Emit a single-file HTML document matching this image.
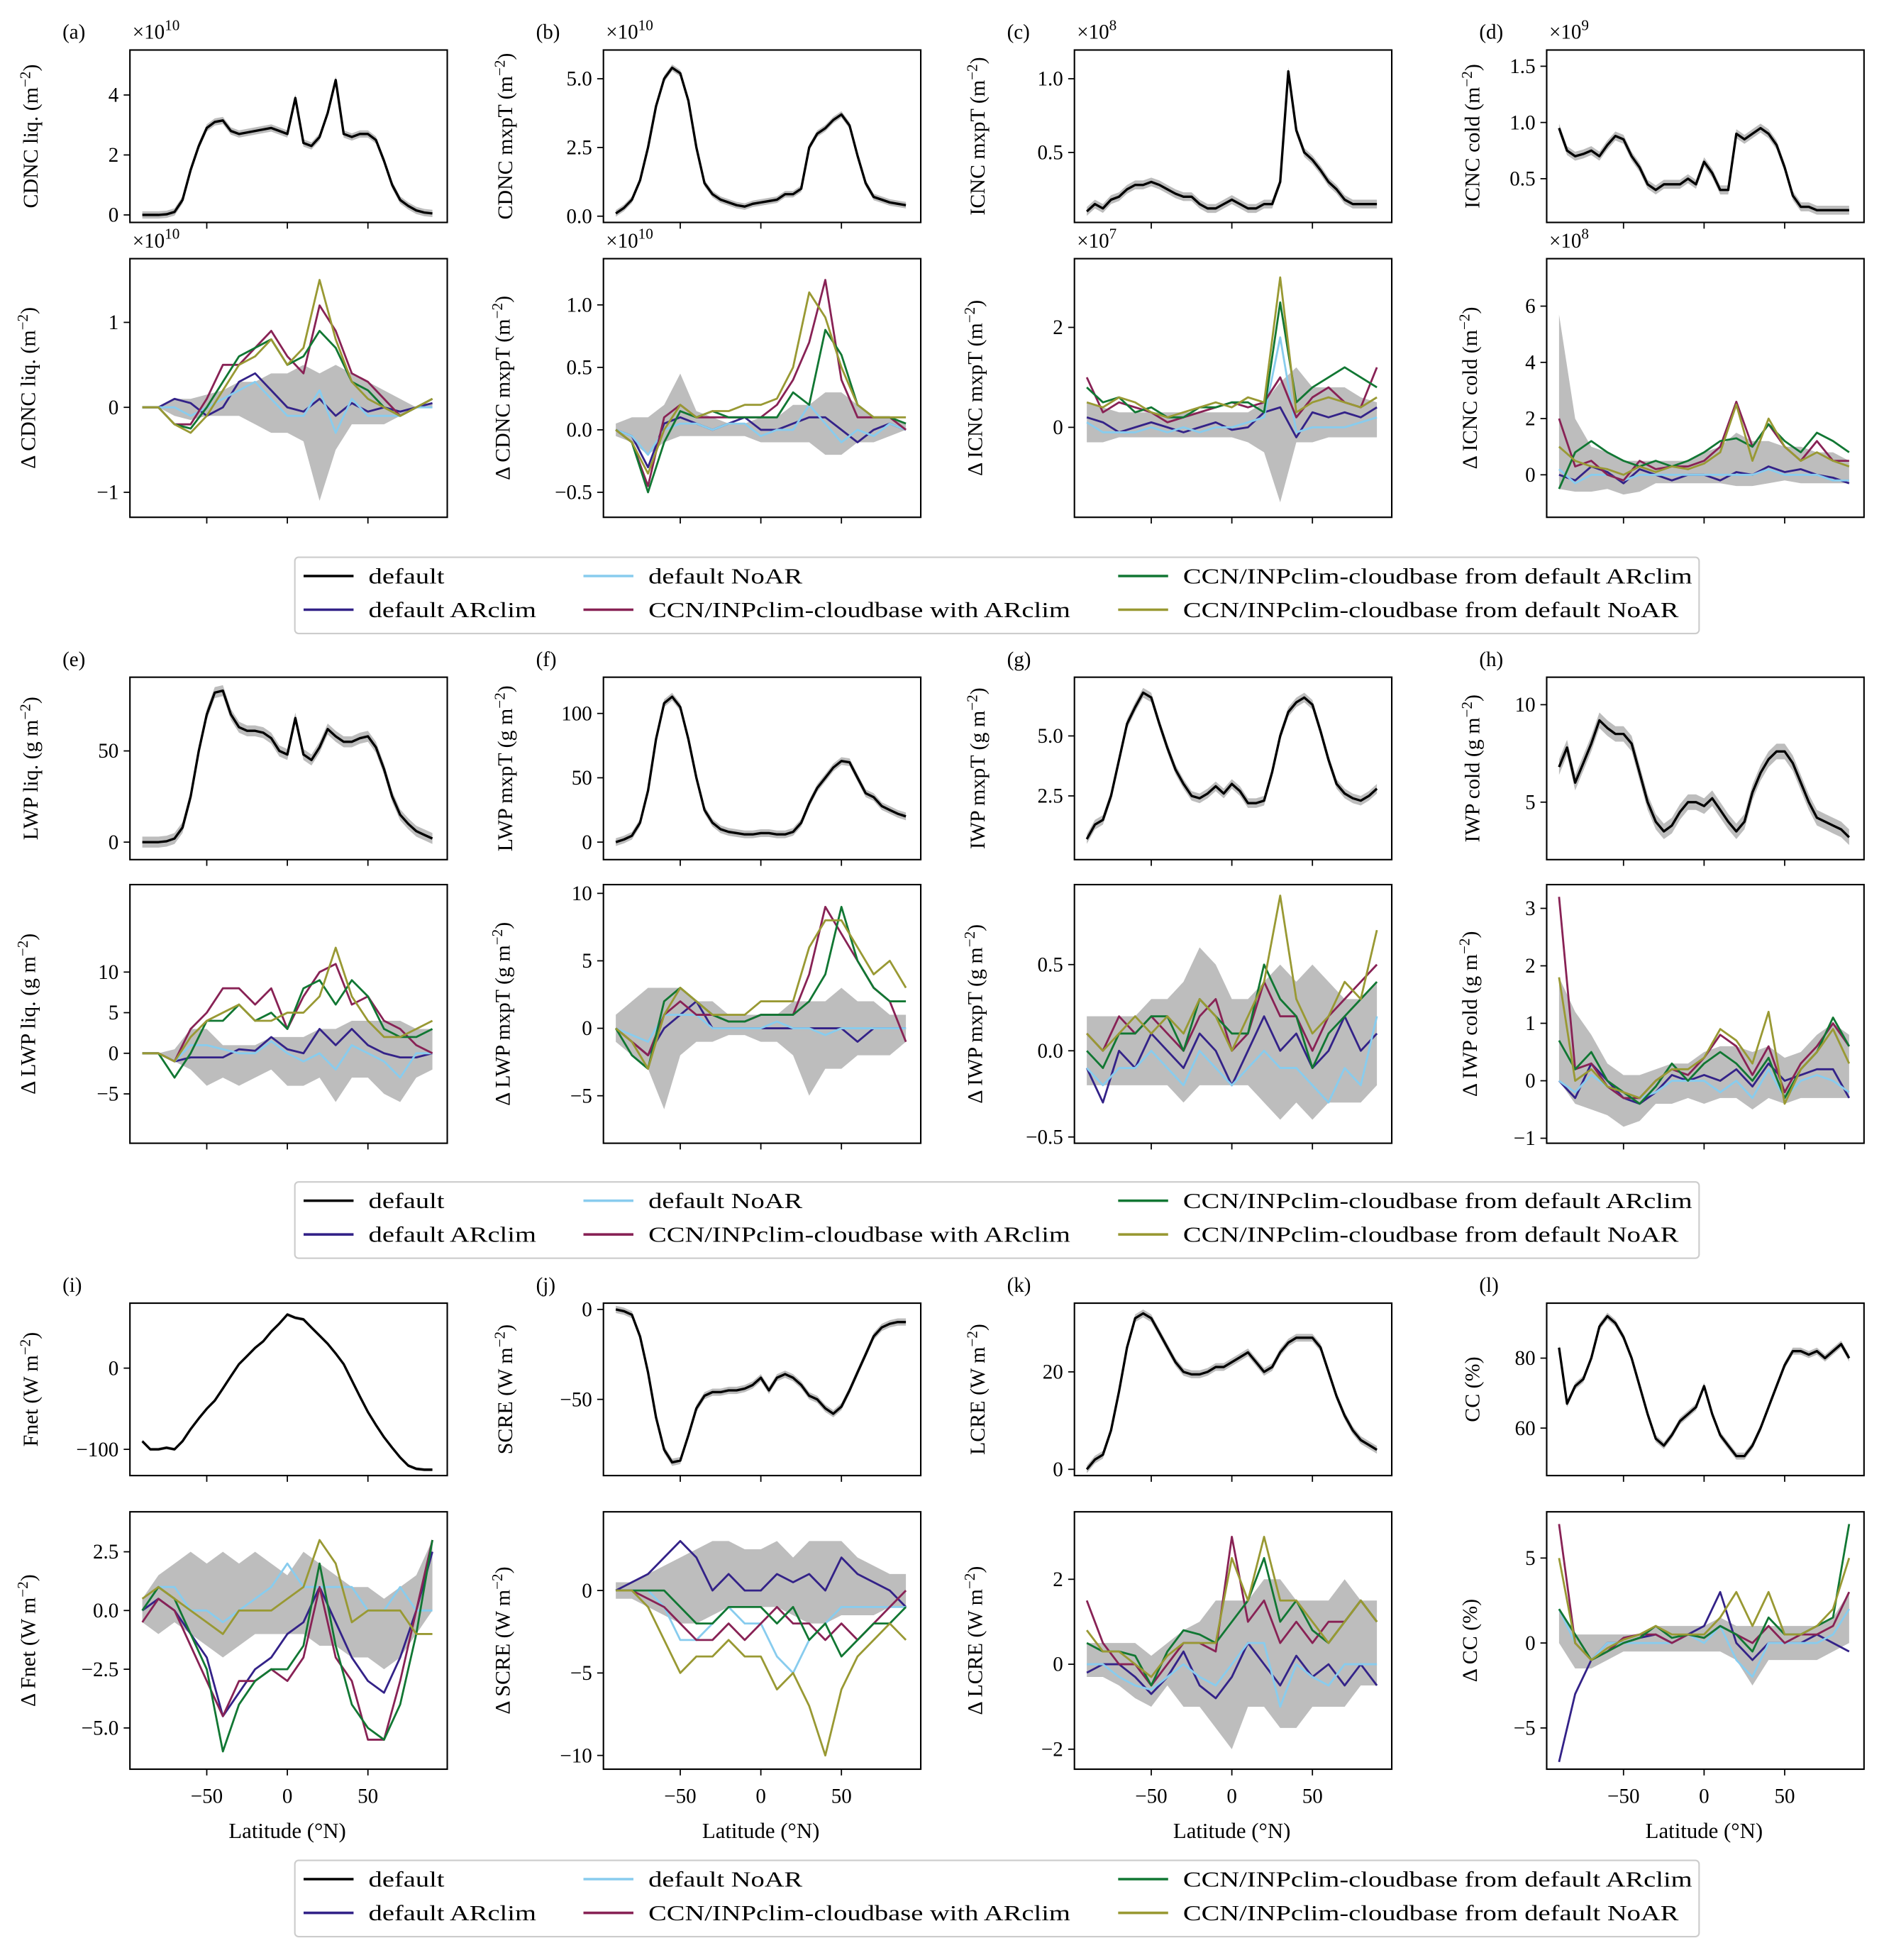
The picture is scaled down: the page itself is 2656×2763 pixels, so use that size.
<!DOCTYPE html>
<html><head><meta charset="utf-8"><title>Cloud diagnostics by latitude</title>
<style>
html,body{margin:0;padding:0;background:#fff;}
svg{display:block;}
text{font-family:"Liberation Serif",serif;fill:#000;}
</style></head>
<body>
<svg id="fig" xmlns="http://www.w3.org/2000/svg" width="2656" height="2763" viewBox="0 0 1508 1568.7"></svg>
<script>
const LAT37=[-90,-85,-80,-75,-70,-65,-60,-55,-50,-45,-40,-35,-30,-25,-20,-15,-10,-5,0,5,10,15,20,25,30,35,40,45,50,55,60,65,70,75,80,85,90];
const LAT19=[-90,-80,-70,-60,-50,-40,-30,-20,-10,0,10,20,30,40,50,60,70,80,90];
const SERIES=["default ARclim","default NoAR","CCN/INPclim-cloudbase with ARclim","CCN/INPclim-cloudbase from default ARclim","CCN/INPclim-cloudbase from default NoAR"];
const COLORS=["#332288","#88ccee","#882255","#117733","#999933"];

// (a)
const A_TOP=[0,0,0,0.02,0.1,0.5,1.5,2.3,2.9,3.1,3.15,2.8,2.7,2.75,2.8,2.85,2.9,2.8,2.7,3.9,2.4,2.3,2.6,3.4,4.5,2.7,2.6,2.7,2.7,2.5,1.8,1.0,0.5,0.3,0.15,0.08,0.05];
const A_NAVY=[0,0,0.1,0.05,-0.1,0,0.3,0.4,0.2,0,-0.05,0.1,-0.1,0.05,-0.05,0,-0.05,0,0.05];
const A_LB=[0,0,0,-0.1,0,0.1,0.2,0.3,0.1,-0.1,-0.1,0.2,-0.3,0.1,-0.1,-0.1,-0.1,0,0];
const A_MAR=[0,0,-0.2,-0.2,0.1,0.5,0.5,0.7,0.9,0.6,0.4,1.2,0.9,0.4,0.3,0.1,-0.1,0,0.1];
const A_GRN=[0,0,-0.2,-0.25,0,0.3,0.6,0.7,0.8,0.5,0.6,0.9,0.7,0.3,0.2,0,-0.1,0,0.1];
const A_OLV=[0,0,-0.2,-0.3,-0.1,0.2,0.5,0.6,0.8,0.5,0.7,1.5,0.8,0.3,0.1,0,-0.1,0,0.1];
const A_LO=[0,0,-0.1,-0.15,-0.1,-0.1,-0.1,-0.2,-0.3,-0.3,-0.4,-1.1,-0.5,-0.2,-0.2,-0.2,-0.1,0,0];
const A_HI=[0,0,0.1,0.1,0.15,0.2,0.3,0.3,0.4,0.4,0.5,0.4,0.5,0.4,0.3,0.2,0.1,0,0.05];
// (b)
const B_TOP=[0.1,0.3,0.6,1.3,2.5,4.0,5.0,5.4,5.2,4.2,2.5,1.2,0.8,0.6,0.5,0.4,0.35,0.45,0.5,0.55,0.6,0.8,0.8,1.0,2.5,3.0,3.2,3.5,3.7,3.3,2.2,1.2,0.7,0.6,0.5,0.45,0.4];
const B_NAVY=[0,-0.05,-0.3,0.05,0.1,0.05,0,0.05,0.1,0,0,0.05,0.1,0.1,0,-0.1,0,0.05,0];
const B_LB=[0,-0.05,-0.2,0,0.05,0.05,0,0.05,0.05,-0.05,0,0,0.2,0.05,-0.1,0,-0.05,0.05,0];
const B_MAR=[0,-0.1,-0.45,0.1,0.2,0.1,0.1,0.1,0.1,0.1,0.2,0.4,0.7,1.2,0.4,0.1,0.1,0.1,0];
const B_GRN=[0,-0.1,-0.5,-0.1,0.15,0.1,0.15,0.1,0.1,0.1,0.1,0.3,0.2,0.8,0.6,0.2,0.1,0.1,0.05];
const B_OLV=[0,-0.1,-0.35,0,0.2,0.1,0.15,0.15,0.2,0.2,0.25,0.5,1.1,0.9,0.5,0.2,0.1,0.1,0.1];
const B_LO=[-0.05,-0.1,-0.2,-0.1,-0.05,-0.05,-0.05,-0.05,-0.05,-0.1,-0.1,-0.1,-0.1,-0.2,-0.2,-0.1,-0.1,-0.05,0];
const B_HI=[0.05,0.1,0.1,0.2,0.45,0.15,0.1,0.05,0.05,0.1,0.1,0.2,0.2,0.3,0.3,0.2,0.1,0.1,0.05];
// (c)
const C_TOP=[0.1,0.15,0.12,0.18,0.2,0.25,0.28,0.28,0.3,0.28,0.25,0.22,0.2,0.2,0.15,0.12,0.12,0.15,0.18,0.15,0.12,0.12,0.15,0.15,0.3,1.05,0.65,0.5,0.45,0.38,0.3,0.25,0.18,0.15,0.15,0.15,0.15];
const C_NAVY=[0.2,0.1,-0.1,0,0.1,0,-0.1,0,0.1,-0.05,0,0.3,0.4,-0.2,0.3,0.2,0.3,0.2,0.4];
const C_LB=[0.1,-0.1,-0.1,-0.1,0,-0.1,0,-0.1,0,0,0.1,0.2,1.8,-0.1,0,0,0,0.1,0.2];
const C_MAR=[1.0,0.3,0.5,0.4,0.3,0.1,0.2,0.3,0.4,0.5,0.4,0.5,1.0,0.2,0.6,0.8,0.5,0.4,1.2];
const C_GRN=[0.8,0.5,0.6,0.3,0.4,0.2,0.2,0.4,0.4,0.5,0.5,0.3,2.5,0.5,0.8,1.0,1.2,1.0,0.8];
const C_OLV=[0.5,0.4,0.6,0.5,0.3,0.2,0.3,0.4,0.5,0.4,0.6,0.5,3.0,0.3,0.5,0.6,0.5,0.4,0.6];
const C_LO=[-0.3,-0.3,-0.2,-0.2,-0.2,-0.2,-0.2,-0.2,-0.2,-0.2,-0.3,-0.5,-1.5,-0.3,-0.3,-0.2,-0.2,-0.2,-0.2];
const C_HI=[0.5,0.4,0.3,0.3,0.3,0.3,0.3,0.3,0.3,0.3,0.3,0.5,0.9,1.2,0.8,0.8,0.8,0.6,0.5];
// (d)
const D_TOP=[0.95,0.75,0.7,0.72,0.75,0.7,0.8,0.88,0.85,0.7,0.6,0.45,0.4,0.45,0.45,0.45,0.5,0.45,0.65,0.55,0.4,0.4,0.9,0.85,0.9,0.95,0.9,0.8,0.6,0.35,0.25,0.25,0.22,0.22,0.22,0.22,0.22];
const D_NAVY=[0,-0.2,0.3,0.1,-0.3,0.2,0,-0.2,0,0,-0.2,0.1,0,0.3,0.1,0.2,0,-0.1,-0.3];
const D_LB=[0.2,-0.3,0,0,-0.2,0,0,0,0,0,0,0,0,0.2,0,0,0,-0.2,-0.2];
const D_MAR=[2.0,0.3,0.5,0,-0.2,0.5,0.2,0.3,0.3,0.5,1.0,2.6,1.0,1.8,1.0,0.5,1.2,0.5,0.5];
const D_GRN=[-0.5,0.8,1.2,0.8,0.5,0.3,0.5,0.3,0.5,0.8,1.2,1.3,1.0,1.8,1.2,0.8,1.5,1.2,0.8];
const D_OLV=[1.0,0.5,0.3,0.2,0,0.3,0.1,0.3,0.2,0.4,0.8,2.5,0.5,2.0,1.0,0.5,0.8,0.5,0.3];
const D_LO=[-0.5,-0.6,-0.6,-0.5,-0.7,-0.6,-0.3,-0.3,-0.3,-0.3,-0.3,-0.4,-0.4,-0.3,-0.2,-0.3,-0.3,-0.3,-0.3];
const D_HI=[5.7,2.0,1.0,0.8,0.5,0.5,0.5,0.5,0.5,0.8,1.0,1.5,1.2,1.2,1.0,1.0,0.8,0.8,0.5];
// (e)
const E_TOP=[0,0,0,0.5,2,8,25,50,70,82,83,70,63,61,61,60,57,50,48,68,48,45,52,62,58,55,55,57,58,52,40,25,15,10,6,4,2];
const E_NAVY=[0,0,-1,-0.5,-0.5,-0.5,0.5,0.3,2,0.5,0,3,1,3,1,0,-0.5,-0.5,0];
const E_LB=[0,0,-1,1,1,0.5,0,0,1.5,0,-1,0,-2,1,0,-1,-3,0,0];
const E_MAR=[0,0,-1,3,5,8,8,6,8,3,7,10,11,6,7,4,3,1,0];
const E_GRN=[0,0,-3,0,4,4,6,4,5,3,8,9,6,9,7,3,2,2,3];
const E_OLV=[0,0,-1,2,4,5,6,4,4,5,5,7,13,7,4,2,2,3,4];
const E_LO=[0,0,-1,-2,-4,-3,-4,-3,-2,-4,-4,-3,-6,-3,-3,-5,-6,-3,-2];
const E_HI=[0,0,0.5,3,3,1,1,1,2,2,2,3,3,4,4,4,4,3,3];
// (f)
const F_TOP=[0,2,5,15,40,80,108,113,105,80,50,25,15,10,8,7,6,6,7,7,6,6,8,15,30,42,50,58,63,62,50,38,35,28,25,22,20];
const F_NAVY=[0,-1,-2,0,1,2,0,0,0,0,0,0,0,0,0,-1,0,0,0];
const F_LB=[0,-0.5,-1,1,1,1,0,0,0,0,0.5,0,0,-0.5,0,0,0,0,0];
const F_MAR=[0,-1,-2,1,2,1,1,0.5,0.5,1,1,1,4,9,7,5,3,2,-1];
const F_GRN=[0,-2,-3,2,3,2,1,0.5,0.5,1,1,1,2,4,9,5,3,2,2];
const F_OLV=[0,-1,-3,1,3,2,1,1,1,2,2,2,6,8,8,6,4,5,3];
const F_LO=[-1,-2,-3,-6,-2,-1,-1,-0.5,-0.5,-1,-1,-2,-5,-3,-3,-2,-2,-2,-1];
const F_HI=[1,2,3,3,3,2,2,1,1,1,1,2,2,2,3,2,2,1,1];
// (g)
const G_TOP=[0.7,1.3,1.5,2.5,4,5.5,6.2,6.8,6.6,5.5,4.5,3.6,3.0,2.5,2.4,2.6,2.9,2.6,3.0,2.7,2.2,2.2,2.3,3.5,5.0,6.0,6.4,6.6,6.3,5.2,4.0,3.0,2.6,2.4,2.3,2.5,2.8];
const G_NAVY=[-0.1,-0.3,0,-0.1,0.1,0,-0.1,0.1,0,-0.2,0,0.2,0,0.1,-0.1,0,0.2,0,0.1];
const G_LB=[-0.1,-0.2,-0.1,-0.1,0,-0.1,-0.2,0,-0.1,-0.2,-0.1,0,-0.1,-0.1,-0.2,-0.3,-0.1,-0.2,0.2];
const G_MAR=[0.1,0,0.2,0.1,0.2,0.1,0,0.2,0.3,0,0.1,0.4,0.2,0.2,0,0.2,0.3,0.4,0.5];
const G_GRN=[0,-0.1,0.1,0.1,0.2,0.2,0,0.3,0.2,0.1,0.1,0.5,0.3,0.2,-0.1,0.1,0.2,0.3,0.4];
const G_OLV=[0.1,0,0.1,0.2,0.1,0.2,0.1,0.3,0.2,0,0.2,0.4,0.9,0.3,0.1,0.2,0.4,0.3,0.7];
const G_LO=[-0.2,-0.2,-0.2,-0.2,-0.2,-0.2,-0.3,-0.2,-0.2,-0.2,-0.2,-0.3,-0.4,-0.3,-0.4,-0.3,-0.3,-0.3,-0.2];
const G_HI=[0.2,0.2,0.2,0.2,0.3,0.3,0.4,0.6,0.5,0.3,0.3,0.4,0.5,0.4,0.5,0.4,0.3,0.3,0.4];
// (h)
const H_TOP=[6.8,7.8,6,7,8,9.2,8.8,8.5,8.5,8,6.5,5,4,3.5,3.8,4.5,5,5,4.8,5.2,4.6,4,3.5,4,5.5,6.5,7.2,7.6,7.6,7,6,5,4.2,4,3.8,3.6,3.2];
const H_NAVY=[0,-0.3,0.3,0,-0.3,-0.4,-0.2,0.1,0,0.1,0,0.2,-0.1,0.3,0,0.1,0.2,0.2,-0.3];
const H_LB=[0,-0.2,0.1,-0.1,-0.3,-0.3,-0.2,0,0,0,-0.2,0,-0.3,0.2,-0.3,0,0.1,0,-0.2];
const H_MAR=[3.2,0.2,0.3,-0.1,-0.3,-0.3,0,0.2,0.1,0.4,0.8,0.6,0.1,0.6,-0.2,0.3,0.6,1.0,0.6];
const H_GRN=[0.7,0.2,0.5,0,-0.2,-0.4,-0.1,0.3,0,0.3,0.5,0.3,0,0.4,-0.3,0.2,0.5,1.1,0.6];
const H_OLV=[1.8,0,0.2,-0.1,-0.2,-0.3,0,0.2,0.2,0.4,0.9,0.7,0.3,1.2,-0.4,0.2,0.5,0.9,0.3];
const H_LO=[0,-0.4,-0.5,-0.6,-0.8,-0.7,-0.4,-0.4,-0.3,-0.4,-0.3,-0.3,-0.5,-0.3,-0.4,-0.3,-0.3,-0.3,-0.3];
const H_HI=[1.8,1.2,0.8,0.3,0.1,0.1,0.2,0.3,0.3,0.5,0.6,0.6,0.5,0.6,0.4,0.5,0.8,1.0,0.8];
// (i)
const I_TOP=[-90,-100,-100,-98,-100,-90,-75,-62,-50,-40,-25,-10,5,15,25,33,45,55,66,62,60,50,40,30,18,5,-15,-35,-54,-70,-85,-98,-110,-120,-124,-125,-125];
const I_NAVY=[0,0.5,0,-1,-2,-4.5,-3.5,-2.5,-2,-1,-0.5,1,-0.5,-2,-3,-3.5,-2,0,2.5];
const I_LB=[0,1,1,0,0,-0.5,0,0.5,1,2,1,1,1,1,0,0,1,0,0];
const I_MAR=[-0.5,0.5,0,-1.5,-3,-4.5,-3,-3,-2.5,-3,-2,1,-2,-3,-5.5,-5.5,-3,0,3];
const I_GRN=[0,1,0.5,-1,-2.5,-6,-4,-3,-2.5,-2.5,-1.5,2,-1.5,-4,-5,-5.5,-4,-1,3];
const I_OLV=[0.5,1,0.5,0,-0.5,-1,0,0,0,0.5,1,3,2,-0.5,0,0,0,-1,-1];
const I_LO=[-0.5,-1,-0.5,-1,-1.5,-2,-1.5,-1,-1,-1,-1,-1.5,-1.5,-2,-2,-2.5,-2,-1,0];
const I_HI=[0.5,1.5,2,2.5,2,2.5,2,2.5,2,1.5,2.5,2,1.5,1,1,0.5,1,1.5,3];
// (j)
const J_TOP=[0,-1,-3,-15,-35,-60,-78,-85,-84,-70,-55,-48,-46,-46,-45,-45,-44,-42,-38,-45,-38,-36,-38,-42,-48,-50,-55,-58,-54,-45,-35,-25,-15,-10,-8,-7,-7];
const J_NAVY=[0,0.5,1,2,3,2,0,1,0,0,1,0.5,1,0,2,1,0.5,0,-1];
const J_LB=[0,0,0,-1,-3,-3,-2,-1,-2,-2,-4,-5,-3,-2,-1,-1,-1,-1,-1];
const J_MAR=[0,0,-0.5,-1,-2,-3,-3,-2,-3,-2,-1,-2,-2,-3,-2,-3,-2,-1,0];
const J_GRN=[0,0,0,0,-1,-2,-2,-1,-1,-1,-2,-1,-3,-2,-4,-3,-2,-2,-1];
const J_OLV=[0,0,-1,-3,-5,-4,-4,-3,-4,-4,-6,-5,-7,-10,-6,-4,-3,-2,-3];
const J_LO=[-0.5,-0.5,-1,-1.5,-2,-2,-1.5,-1,-1,-1,-1,-1.5,-2,-2,-1.5,-1.5,-1.5,-1,-1];
const J_HI=[0.5,0.5,1,1.5,2,2.5,3,3,2.5,2.5,3,2,3,3,3,2,1.5,1,1];
// (k)
const K_TOP=[0,2,3,8,16,25,31,32,31,28,25,22,20,19.5,19.5,20,21,21,22,23,24,22,20,21,24,26,27,27,27,25,20,15,11,8,6,5,4];
const K_NAVY=[-0.2,0,0,-0.3,-0.7,-0.3,0.3,-0.5,-0.8,-0.3,0.5,0,-0.5,0.2,-0.3,0,-0.5,0,-0.5];
const K_LB=[0,0,-0.3,-0.5,-0.6,-0.3,0,-0.3,-0.5,0,0.5,0.5,-1,0,-0.3,-0.5,0,0,0];
const K_MAR=[1.5,0.5,0,0,-0.5,0,0.5,0.5,0.3,3,1,1.5,0.5,1,0.5,1,1,1.5,1];
const K_GRN=[0.5,0.3,0.3,0.2,-0.5,0.3,0.8,0.7,0.5,1,1.5,2.5,1,1.5,0.8,0.5,1,1.5,1];
const K_OLV=[0.8,0.3,0.3,0,-0.3,0.2,0.5,0.5,0.5,2.5,1.5,3,1.5,1.5,1,0.5,1,1.5,1];
const K_LO=[-0.3,-0.3,-0.5,-0.8,-1,-0.5,-1,-1,-1.5,-2,-1,-1,-1.5,-1.5,-1,-1,-1,-0.5,-0.5];
const K_HI=[0.5,0.5,0.5,0.5,0.2,0.5,0.8,1,1.5,1.5,1.5,2,2,1.5,1.5,1.5,2,1.5,1.5];
// (l)
const L_TOP=[83,67,72,74,80,89,92,90,86,80,72,64,57,55,58,62,64,66,72,64,58,55,52,52,55,60,66,72,78,82,82,81,82,80,82,84,80];
const L_NAVY=[-7,-3,-1,0,0,0.3,0.5,0,0.5,1,3,0,-1,0,0,0,0.5,0,-0.5];
const L_LB=[2,0,-1,0,0,0,0,0,0.5,0,1,-1,-2,0,0,0,0,0.5,2];
const L_MAR=[7,0,-1,-0.5,0.3,0.5,0.5,0,0.5,0.3,1,0.5,0,1,0,0.5,0.5,1,3];
const L_GRN=[2,0.5,-1,-0.5,0,0.3,1,0.3,0.5,0.3,1,0.5,-0.5,1.5,0.5,0.5,1,1.5,7];
const L_OLV=[5,0,-1,-0.3,0.2,0.5,1,0.5,0.5,0.5,1.5,3,1,3,0.5,0.5,1,2,5];
const L_LO=[0,-1.5,-1.5,-1,-0.5,-0.5,-0.5,-0.5,-0.5,-0.5,-0.5,-1,-2.5,-1,-1,-1,-1,-0.5,0];
const L_HI=[2,0.5,0.5,0.5,0.5,0.5,1,1,1,1,1.5,1,1,1,1,1,1,1.5,3];

const NS="http://www.w3.org/2000/svg";
const svg=document.getElementById('fig');
function mk(tag,attrs,parent){const e=document.createElementNS(NS,tag);for(const k in attrs)e.setAttribute(k,attrs[k]);(parent||svg).appendChild(e);return e;}
const COLX=[230,609,986,1364];const KX=1.29;
function xmap(col,lat){return COLX[col]+lat*KX;}
const ROWS=[[40,178],[207,414],[542,688],[708,915],[1043,1181],[1210,1416]];

const PANELS=[
{L:'(a)',col:0,row:0,ref:[0,172,4,76],ticks:[[0,'0'],[2,'2'],[4,'4']],yl:'CDNC liq. (m',exp:'10',top:A_TOP,spread:0.12},
{col:0,row:1,ref:[0,326,1,258],ticks:[[-1,'−1'],[0,'0'],[1,'1']],yl:'Δ CDNC liq. (m',exp:'10',d:[A_NAVY,A_LB,A_MAR,A_GRN,A_OLV],lo:A_LO,hi:A_HI},
{L:'(b)',col:1,row:0,ref:[0,173,5,63],ticks:[[0,'0.0'],[2.5,'2.5'],[5,'5.0']],yl:'CDNC mxpT (m',exp:'10',top:B_TOP,spread:0.12},
{col:1,row:1,ref:[0,344,1,244],ticks:[[-0.5,'−0.5'],[0,'0.0'],[0.5,'0.5'],[1,'1.0']],yl:'Δ CDNC mxpT (m',exp:'10',d:[B_NAVY,B_LB,B_MAR,B_GRN,B_OLV],lo:B_LO,hi:B_HI},
{L:'(c)',col:2,row:0,ref:[0.5,122,1,63],ticks:[[0.5,'0.5'],[1,'1.0']],yl:'ICNC mxpT (m',exp:'8',top:C_TOP,spread:0.03},
{col:2,row:1,ref:[0,342,2,262],ticks:[[0,'0'],[2,'2']],yl:'Δ ICNC mxpT (m',exp:'7',d:[C_NAVY,C_LB,C_MAR,C_GRN,C_OLV],lo:C_LO,hi:C_HI},
{L:'(d)',col:3,row:0,ref:[0.5,143,1,98],ticks:[[0.5,'0.5'],[1,'1.0'],[1.5,'1.5']],yl:'ICNC cold (m',exp:'9',top:D_TOP,spread:0.04},
{col:3,row:1,ref:[0,380,2,335],ticks:[[0,'0'],[2,'2'],[4,'4'],[6,'6']],yl:'Δ ICNC cold (m',exp:'8',d:[D_NAVY,D_LB,D_MAR,D_GRN,D_OLV],lo:D_LO,hi:D_HI},
{L:'(e)',col:0,row:2,ref:[0,674,50,601],ticks:[[0,'0'],[50,'50']],yl:'LWP liq. (g m',top:E_TOP,spread:3},
{col:0,row:3,ref:[0,843,10,778],ticks:[[-5,'−5'],[0,'0'],[5,'5'],[10,'10']],yl:'Δ LWP liq. (g m',d:[E_NAVY,E_LB,E_MAR,E_GRN,E_OLV],lo:E_LO,hi:E_HI},
{L:'(f)',col:1,row:2,ref:[0,674,100,571],ticks:[[0,'0'],[50,'50'],[100,'100']],yl:'LWP mxpT (g m',top:F_TOP,spread:3},
{col:1,row:3,ref:[0,823,10,715],ticks:[[-5,'−5'],[0,'0'],[5,'5'],[10,'10']],yl:'Δ LWP mxpT (g m',d:[F_NAVY,F_LB,F_MAR,F_GRN,F_OLV],lo:F_LO,hi:F_HI},
{L:'(g)',col:2,row:2,ref:[2.5,637,5,589],ticks:[[2.5,'2.5'],[5,'5.0']],yl:'IWP mxpT (g m',top:G_TOP,spread:0.2},
{col:2,row:3,ref:[0,841,0.5,772],ticks:[[-0.5,'−0.5'],[0,'0.0'],[0.5,'0.5']],yl:'Δ IWP mxpT (g m',d:[G_NAVY,G_LB,G_MAR,G_GRN,G_OLV],lo:G_LO,hi:G_HI},
{L:'(h)',col:3,row:2,ref:[5,642,10,564],ticks:[[5,'5'],[10,'10']],yl:'IWP cold (g m',top:H_TOP,spread:0.4},
{col:3,row:3,ref:[0,865,1,819],ticks:[[-1,'−1'],[0,'0'],[1,'1'],[2,'2'],[3,'3']],yl:'Δ IWP cold (g m',d:[H_NAVY,H_LB,H_MAR,H_GRN,H_OLV],lo:H_LO,hi:H_HI},
{L:'(i)',col:0,row:4,ref:[0,1095,-100,1160],ticks:[[-100,'−100'],[0,'0']],yl:'Fnet (W m',top:I_TOP,spread:2},
{col:0,row:5,ref:[0,1289,2.5,1242],ticks:[[-5,'−5.0'],[-2.5,'−2.5'],[0,'0.0'],[2.5,'2.5']],yl:'Δ Fnet (W m',d:[I_NAVY,I_LB,I_MAR,I_GRN,I_OLV],lo:I_LO,hi:I_HI},
{L:'(j)',col:1,row:4,ref:[0,1048,-50,1120],ticks:[[-50,'−50'],[0,'0']],yl:'SCRE (W m',top:J_TOP,spread:2},
{col:1,row:5,ref:[0,1273,-5,1339],ticks:[[-10,'−10'],[-5,'−5'],[0,'0']],yl:'Δ SCRE (W m',d:[J_NAVY,J_LB,J_MAR,J_GRN,J_OLV],lo:J_LO,hi:J_HI},
{L:'(k)',col:2,row:4,ref:[0,1176,20,1098],ticks:[[0,'0'],[20,'20']],yl:'LCRE (W m',top:K_TOP,spread:0.8},
{col:2,row:5,ref:[0,1332,2,1264],ticks:[[-2,'−2'],[0,'0'],[2,'2']],yl:'Δ LCRE (W m',d:[K_NAVY,K_LB,K_MAR,K_GRN,K_OLV],lo:K_LO,hi:K_HI},
{L:'(l)',col:3,row:4,ref:[80,1087,60,1143],ticks:[[60,'60'],[80,'80']],yl:'CC (%)',top:L_TOP,spread:1},
{col:3,row:5,ref:[0,1315,5,1247],ticks:[[-5,'−5'],[0,'0'],[5,'5']],yl:'Δ CC (%)',d:[L_NAVY,L_LB,L_MAR,L_GRN,L_OLV],lo:L_LO,hi:L_HI}
];
const YLX=[30,410,788,1184];

function pathD(col,lats,vals,ym){return lats.map((la,i)=>(i?'L':'M')+xmap(col,la).toFixed(1)+','+ym(vals[i]).toFixed(1)).join('');}

PANELS.forEach((p,pi)=>{
  const left=COLX[p.col]-126,right=COLX[p.col]+128;
  const [t,b]=ROWS[p.row];
  const [v1,p1,v2,p2]=p.ref;
  const ym=v=>p1+(v-v1)*(p2-p1)/(v2-v1);
  const g=mk('g',{});
  
  
  const cid='clip'+pi;
  const cp=mk('clipPath',{id:cid},g);mk('rect',{x:left,y:t,width:right-left,height:b-t},cp);
  const plot=mk('g',{'clip-path':'url(#'+cid+')'},g);
  if(p.top){
    const up=p.top.map(v=>v+p.spread),dn=p.top.map(v=>v-p.spread);
    const d=pathD(p.col,LAT37,up,ym)+pathD(p.col,LAT37.slice().reverse(),dn.slice().reverse(),ym).replace('M','L')+'Z';
    const band=mk('path',{d:d,fill:'#bdbdbd',stroke:'none'},plot);
    
    
    const ln=mk('path',{d:pathD(p.col,LAT37,p.top,ym),fill:'none',stroke:'#000','stroke-width':1.9,'stroke-linejoin':'round'},plot);
    
    
  } else {
    const d=pathD(p.col,LAT19,p.hi,ym)+pathD(p.col,LAT19.slice().reverse(),p.lo.slice().reverse(),ym).replace('M','L')+'Z';
    const band=mk('path',{d:d,fill:'#bdbdbd',stroke:'none'},plot);
    
    
    p.d.forEach((s,si)=>{
      const ln=mk('path',{d:pathD(p.col,LAT19,s,ym),fill:'none',stroke:COLORS[si],'stroke-width':1.6,'stroke-linejoin':'round'},plot);
      
      
    });
  }
  const fr=mk('rect',{x:left,y:t,width:right-left,height:b-t,fill:'none',stroke:'#000','stroke-width':1.2},g);
  
  
  [-50,0,50].forEach(la=>{
    const x=xmap(p.col,la);
    mk('line',{x1:x,x2:x,y1:b,y2:b+5,stroke:'#000','stroke-width':1},g);
    if(p.row===5){
      const tx=mk('text',{x:x,y:b+27,'text-anchor':'middle','font-size':16.5},g);
      tx.textContent=la<0?'−'+(-la):String(la);
      
      
    }
  });
  p.ticks.forEach(([v,lab])=>{
    const y=ym(v);
    mk('line',{x1:left-5,x2:left,y1:y,y2:y,stroke:'#000','stroke-width':1},g);
    const tx=mk('text',{x:left-9,y:y+5.5,'text-anchor':'end','font-size':16.5},g);
    tx.textContent=lab;
    
    
  });
  const yl=mk('text',{x:0,y:0,'text-anchor':'middle','font-size':17,transform:'translate('+(YLX[p.col]+(p.d?-2:0))+','+((t+b)/2)+') rotate(-90)'},g);
  
  
  if(p.yl.endsWith('(%)')){yl.textContent=p.yl;}
  else{yl.appendChild(document.createTextNode(p.yl));const s=mk('tspan',{dy:-6,'font-size':12},yl);s.textContent='−2';const c=mk('tspan',{dy:6},yl);c.textContent=')';}
  if(p.exp){
    const ex=mk('text',{x:left+2,y:t-9,'font-size':16.5},g);
    ex.appendChild(document.createTextNode('×10'));
    const s=mk('tspan',{dy:-7,'font-size':12},ex);s.textContent=p.exp;
    
    
  }
  if(p.L){
    const lt=mk('text',{x:left-54,y:t-9,'font-size':16.5},g);
    lt.textContent=p.L;
    
    
  }
  if(p.row===5){
    const xl=mk('text',{x:COLX[p.col],y:b+55,'text-anchor':'middle','font-size':17.5},g);
    xl.textContent='Latitude (°N)';
    
    
  }
});

const LEG_ITEMS=[["default","#000",0,0],["default ARclim",COLORS[0],0,1],["default NoAR",COLORS[1],1,0],["CCN/INPclim-cloudbase with ARclim",COLORS[2],1,1],["CCN/INPclim-cloudbase from default ARclim",COLORS[3],2,0],["CCN/INPclim-cloudbase from default NoAR",COLORS[4],2,1]];
const LEG_X=[243,467,895];
[446,946,1489].forEach((ly,li)=>{
  const g=mk('g',{});
  
  
  mk('rect',{x:236,y:ly,width:1124,height:61,rx:3,fill:'#fff',stroke:'#ccc','stroke-width':1.2},g);
  LEG_ITEMS.forEach(([name,c,cx,ry])=>{
    const y=ly+15+ry*27;
    const e=mk('g',{},g);
    
    
    mk('line',{x1:LEG_X[cx],x2:LEG_X[cx]+40,y1:y,y2:y,stroke:c,'stroke-width':2},e);
    const tx=mk('text',{x:LEG_X[cx]+52,y:y+6,'font-size':17.5},e);
    tx.textContent=name;
    const w=tx.getComputedTextLength();
    if(w>0){tx.setAttribute('textLength',(w*1.25).toFixed(1));tx.setAttribute('lengthAdjust','spacingAndGlyphs');}
  });
});
</script>
</body></html>
